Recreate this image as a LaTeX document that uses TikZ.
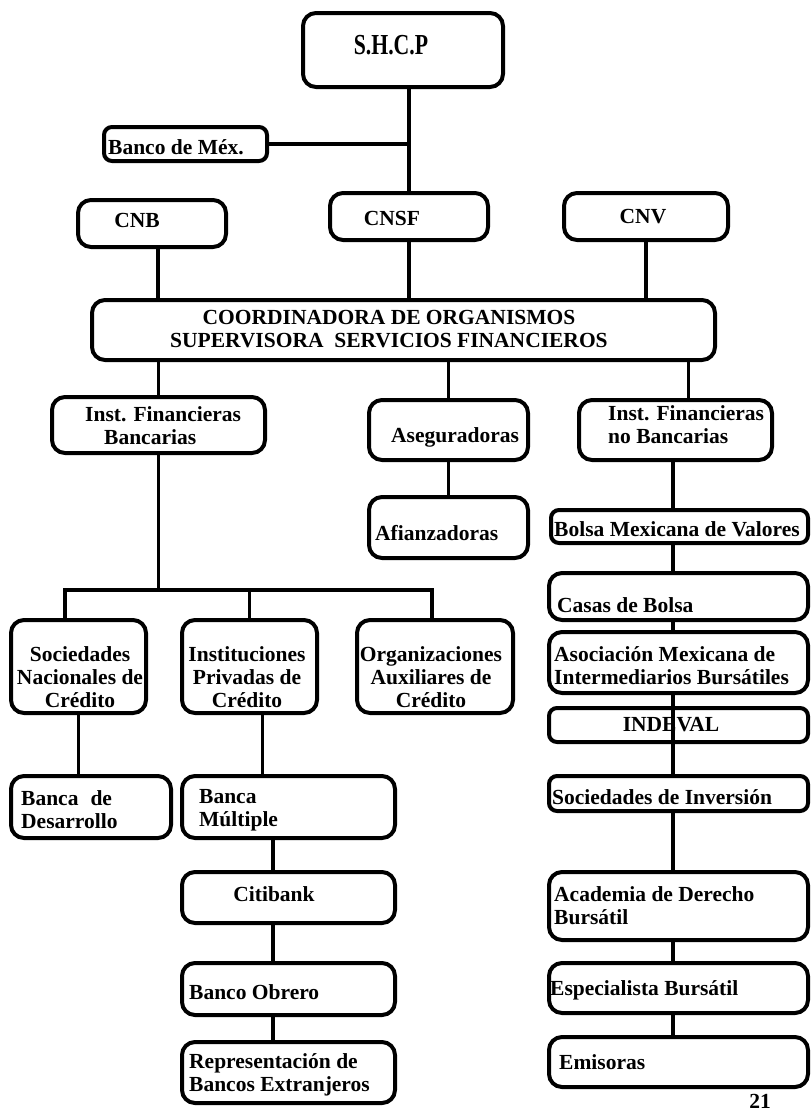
\documentclass[tikz,border=0pt]{standalone}
\usepackage{fontspec}
\setmainfont{Liberation Serif}
\newfontfamily\condfont{Liberation Serif}[FakeStretch=0.75]
\newcommand\obox[6]{\node[#6, minimum width={(#4-#2)*1pt}, minimum height={(#5-#3)*1pt}] (#1) at ({(#2+#4)/2},{(#3+#5)/2}) {};}
\begin{document}
\begin{tikzpicture}[x=1pt,y=-1pt,
  box/.style={draw, line width=4pt, rounded corners=13pt, inner sep=0pt},
  thinbox/.style={box, rounded corners=8pt},
  txt/.style={inner sep=0pt, font=\fontsize{21.5}{23}\selectfont\bfseries},
  conn/.style={line width=3.5pt}]
\useasboundingbox (0,0) rectangle (811,1114);
\fill[white] (0,0) rectangle (811,1114);

% boxes
\obox{shcp}{303}{13}{503}{87}{box}
\obox{bmex}{104}{127}{267}{161}{thinbox}
\obox{cnb}{78}{200}{226}{247}{box}
\obox{cnsf}{330}{193}{488}{240}{box}
\obox{cnv}{564}{193}{728}{240}{box}
\obox{coord}{92}{300}{715}{360}{box}
\obox{ifb}{52}{397}{265}{453}{box}
\obox{aseg}{369}{400}{528}{460}{box}
\obox{ifnb}{579}{400}{772}{460}{box}
\obox{afian}{369}{497}{528}{558}{box}
\obox{bmv}{551}{510}{808}{543}{thinbox}
\obox{casas}{549}{573}{808}{620}{box}
\obox{amib}{549}{632}{808}{693}{box}
\obox{indeval}{549}{708}{808}{742}{thinbox}
\obox{sinv}{549}{776}{808}{811}{thinbox}
\obox{acad}{549}{872}{808}{940}{box}
\obox{espec}{549}{963}{808}{1013}{box}
\obox{emis}{549}{1037}{808}{1087}{box}
\obox{snc}{11}{620}{146}{713}{box}
\obox{ipc}{182}{620}{317}{713}{box}
\obox{oac}{357}{620}{513}{713}{box}
\obox{bdes}{11}{776}{171}{838}{box}
\obox{bmul}{182}{776}{395}{838}{box}
\obox{citi}{182}{872}{395}{923}{box}
\obox{bobr}{182}{963}{395}{1015}{box}
\obox{rbe}{182}{1042}{395}{1103}{box}

% texts
\node[txt, font=\fontsize{29}{31}\selectfont\condfont\bfseries] (shcp-t) at (391,45) {S.H.C.P};
\node[txt, anchor=west] (bmex-t) at (108,147) {Banco de Méx.};
\node[txt] (cnb-t) at (137,220) {CNB};
\node[txt] (cnsf-t) at (392,218) {CNSF};
\node[txt] (cnv-t) at (643,217) {CNV};
\node[txt, align=center] (coord-t) at (389,329) {COORDINADORA DE ORGANISMOS\\SUPERVISORA\ \ SERVICIOS FINANCIEROS};
\node[txt, align=left, anchor=west] (ifb-t) at (85,426) {Inst. Financieras\\\hspace*{19pt}Bancarias};
\node[txt, anchor=west] (aseg-t) at (391,437) {Aseguradoras};
\node[txt, align=left, anchor=west] (ifnb-t) at (608,425) {Inst. Financieras\\no Bancarias};
\node[txt, anchor=west] (afian-t) at (375,533) {Afianzadoras};
\node[txt, anchor=west] (bmv-t) at (554,529) {Bolsa Mexicana de Valores};
\node[txt, anchor=west] (casas-t) at (557,605) {Casas de Bolsa};
\node[txt, align=left, anchor=west] (amib-t) at (554,666) {Asociación Mexicana de\\Intermediarios Bursátiles};
\node[txt] (indeval-t) at (671,725) {INDEVAL};
\node[txt, anchor=west] (sinv-t) at (552,797) {Sociedades de Inversión};
\node[txt, align=left, anchor=west] (acad-t) at (554,906) {Academia de Derecho\\Bursátil};
\node[txt, anchor=west] (espec-t) at (550,990) {Especialista Bursátil};
\node[txt, anchor=west] (emis-t) at (559,1062) {Emisoras};
\node[txt, align=center] (snc-t) at (80,677) {Sociedades\\Nacionales de\\Crédito};
\node[txt, align=center] (ipc-t) at (247,677) {Instituciones\\Privadas de\\Crédito};
\node[txt, align=center] (oac-t) at (431,677) {Organizaciones\\Auxiliares de\\Crédito};
\node[txt, align=left, anchor=west] (bdes-t) at (21,810) {Banca\hspace{12pt}de\\Desarrollo};
\node[txt, align=left, anchor=west] (bmul-t) at (199,810) {Banca\\Múltiple};
\node[txt] (citi-t) at (274,894) {Citibank};
\node[txt, anchor=west] (bobr-t) at (189,992) {Banco Obrero};
\node[txt, align=left, anchor=west] (rbe-t) at (189,1075) {Representación de\\Bancos Extranjeros};
\node[txt, anchor=base] (page) at (760,1108) {21};

% connectors
\coordinate (cR) at (673,0);
\coordinate (cM) at (273,0);
\coordinate (jL) at (65,590);
\coordinate (jR) at (432,590);
\draw[conn] (cnsf.north |- shcp.south) -- (cnsf.north);
\draw[conn] (bmex.east) -- (bmex.east -| cnsf.north);
\draw[conn] ([xshift=6pt]cnb.south) -- ([xshift=6pt]cnb.south |- coord.north);
\draw[conn] (cnsf.south) -- (cnsf.south |- coord.north);
\draw[conn] (cnv.south) -- (cnv.south |- coord.north);
\draw[conn] (ifb.north |- coord.south) -- (ifb.north);
\draw[conn] (aseg.north |- coord.south) -- (aseg.north);
\draw[conn] ([xshift=13pt]ifnb.north |- coord.south) -- ([xshift=13pt]ifnb.north);
\draw[conn] (aseg.south) -- (afian.north);
\draw[conn] (ifnb.south -| cR) -- (bmv.north -| cR);
\draw[conn] (bmv.south -| cR) -- (casas.north -| cR);
\draw[conn] (casas.south -| cR) -- (amib.north -| cR);
\draw[conn] (amib.south -| cR) -- (sinv.north -| cR);
\draw[conn] (sinv.south -| cR) -- (acad.north -| cR);
\draw[conn] (acad.south -| cR) -- (espec.north -| cR);
\draw[conn] (espec.south -| cR) -- (emis.north -| cR);
\draw[conn] (ifb.south) -- (ifb.south |- jL);
\draw[conn] (jL |- snc.north) -- (jL) -- (jR) -- (jR |- oac.north);
\draw[conn] (ipc.north |- jL) -- (ipc.north);
\draw[conn] (snc.south) -- (snc.south |- bdes.north);
\draw[conn] ([xshift=13pt]ipc.south) -- ([xshift=13pt]ipc.south |- bmul.north);
\draw[conn] (bmul.south -| cM) -- (citi.north -| cM);
\draw[conn] (citi.south -| cM) -- (bobr.north -| cM);
\draw[conn] (bobr.south -| cM) -- (rbe.north -| cM);
\end{tikzpicture}
\end{document}
